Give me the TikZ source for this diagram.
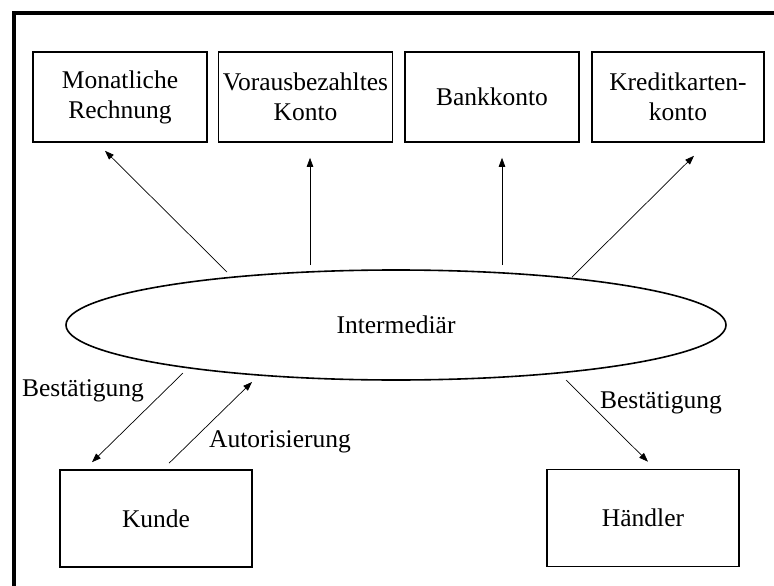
\documentclass[tikz,border=0pt]{standalone}
\usepackage{fontspec}
\setmainfont{Liberation Serif}
\usetikzlibrary{arrows.meta,shapes.geometric}

\begin{document}
\begin{tikzpicture}[x=1pt,y=-1pt,
  lbl/.style={font=\fontsize{25.5}{30}\selectfont},
  acct/.style={draw,line width=1.6pt,minimum width=174pt,minimum height=90pt,
    inner sep=0pt,align=center,lbl},
  party/.style={draw,line width=1.6pt,minimum width=192pt,minimum height=97pt,
    inner sep=0pt,align=center,lbl},
  hub/.style={draw,ellipse,line width=1.6pt,minimum width=660pt,minimum height=110pt,
    inner sep=0pt,lbl},
  flow/.style={line width=0.7pt,-{Triangle[length=9pt,width=6.5pt]}}]

\useasboundingbox (0,0) rectangle (774,586);

% outer frame: only its top and left sides lie on the page
\draw[line width=4pt,line cap=rect] (14,586) -- (14,13) -- (774,13);

% account types
\node[acct] (m1) at (120,97)   {Monatliche\\Rechnung};
\node[acct] (m2) at (305.5,97) {Vorausbezahltes\\Konto};
\node[acct] (m3) at (492,97)   {Bankkonto};
\node[acct,minimum width=172pt] (m4) at (678,97) {Kreditkarten-\\konto};

% intermediary
\node[hub] (inter) at (396,325) {Intermediär};

% customer and merchant
\node[party] (kunde) at (156,518.5) {Kunde};
\node[party] (haendler) at (643,518) {Händler};

% payment routes to the accounts
\draw[flow] ([shift={(-169,-53)}]inter.center) -- ([shift={(-15,8)}]m1.south);
\draw[flow] ([shift={(-86,-60)}]inter.center)  -- ([shift={(4.5,15)}]m2.south);
\draw[flow] ([shift={(106,-60)}]inter.center)  -- ([shift={(10,15)}]m3.south);
\draw[flow] ([shift={(176,-48)}]inter.center)  -- ([shift={(16,13)}]m4.south);

% confirmations and authorisation
\draw[flow] ([shift={(-213,48)}]inter.center) -- ([shift={(-64,-7)}]kunde.north);
\draw[flow] ([shift={(13,-6)}]kunde.north) -- ([shift={(-144,57)}]inter.center);
\draw[flow] ([shift={(170,55)}]inter.center) -- ([shift={(5,-7)}]haendler.north);

% connector labels
\node[lbl,anchor=base] (lb1) at (83,396)  {Bestätigung};
\node[lbl,anchor=base] (lb2) at (280,447) {Autorisierung};
\node[lbl,anchor=base] (lb3) at (661,408) {Bestätigung};
\end{tikzpicture}
\end{document}
